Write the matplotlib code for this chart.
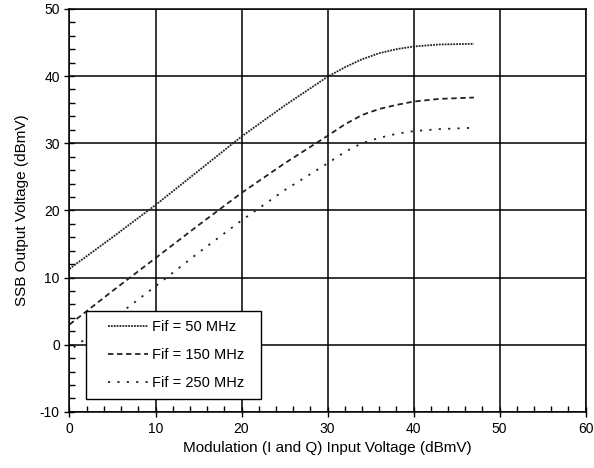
import numpy as np
import matplotlib.pyplot as plt
from matplotlib.patches import Rectangle
from matplotlib.ticker import MultipleLocator

plt.rcParams['font.family'] = ['Liberation Sans', 'DejaVu Sans']
plt.rcParams['axes.unicode_minus'] = False

# (input dBmV -> output dBmV)
x_50 = [0, 5, 10, 15, 20, 25, 30, 32, 34, 36, 38, 40, 43, 47]
y_50 = [11.3, 16.0, 20.8, 25.9, 31.0, 35.6, 39.9, 41.3, 42.5, 43.4, 44.0, 44.4, 44.7, 44.8]

x_150 = [0, 5, 10, 15, 20, 25, 30, 32, 34, 36, 38, 40, 43, 47]
y_150 = [3.0, 8.0, 12.9, 17.8, 22.6, 27.0, 31.1, 32.8, 34.2, 35.1, 35.7, 36.2, 36.6, 36.8]

x_250 = [0.5, 5, 10, 15, 20, 25, 30, 32, 34, 36, 38, 40, 43, 47]
y_250 = [-0.4, 3.8, 8.7, 13.7, 18.5, 23.0, 27.0, 28.7, 30.0, 30.8, 31.4, 31.8, 32.1, 32.3]

labels = ['Fif = 50 MHz', 'Fif = 150 MHz', 'Fif = 250 MHz']

fig = plt.figure(figsize=(5.94, 4.68), dpi=100)
ax = fig.add_axes([0.117, 0.12, 0.869, 0.861])

ax.plot(x_50, y_50, color='#222222', lw=1.3, ls=(0, (1, 0.6)), label=labels[0])
ax.plot(x_150, y_150, color='#222222', lw=1.3, ls=(0, (3, 2)), label=labels[1])
ax.plot(x_250, y_250, color='#222222', lw=1.3, ls=(0, (1.2, 4)), label=labels[2])

ax.set_xlim(0, 60)
ax.set_ylim(-10, 50)
ax.xaxis.set_major_locator(MultipleLocator(10))
ax.yaxis.set_major_locator(MultipleLocator(10))
ax.xaxis.set_minor_locator(MultipleLocator(2))
ax.yaxis.set_minor_locator(MultipleLocator(2))
ax.tick_params(which='major', direction='inout', length=7, width=1, labelsize=10)
ax.tick_params(which='minor', direction='in', length=4, width=1)
ax.grid(True, which='major', color='black', lw=1.1)
for s in ax.spines.values():
    s.set_linewidth(1.1)

ax.set_xlabel('Modulation (I and Q) Input Voltage (dBmV)', fontsize=11, labelpad=4)
ax.set_ylabel('SSB Output Voltage (dBmV)', fontsize=11, labelpad=8)

# title is clipped off the top edge in the reference
fig.text(0.54, 1.009, '(LO Held at Steady Level)', ha='center', va='baseline',
         fontsize=12, fontweight='bold')

# legend box drawn separately so its padding can match the reference
box = Rectangle((0.032, 0.032), 0.339, 0.218, transform=ax.transAxes,
                facecolor='white', edgecolor='black', lw=1.0, zorder=4)
ax.add_patch(box)
leg = ax.legend(loc='upper left', bbox_to_anchor=(0.074, 0.227), fontsize=10.5,
                frameon=False, handlelength=2.75, labelspacing=0.95,
                borderpad=0, handletextpad=0.3, borderaxespad=0)
leg.set_zorder(5)

fig.savefig('out.png', dpi=100)
